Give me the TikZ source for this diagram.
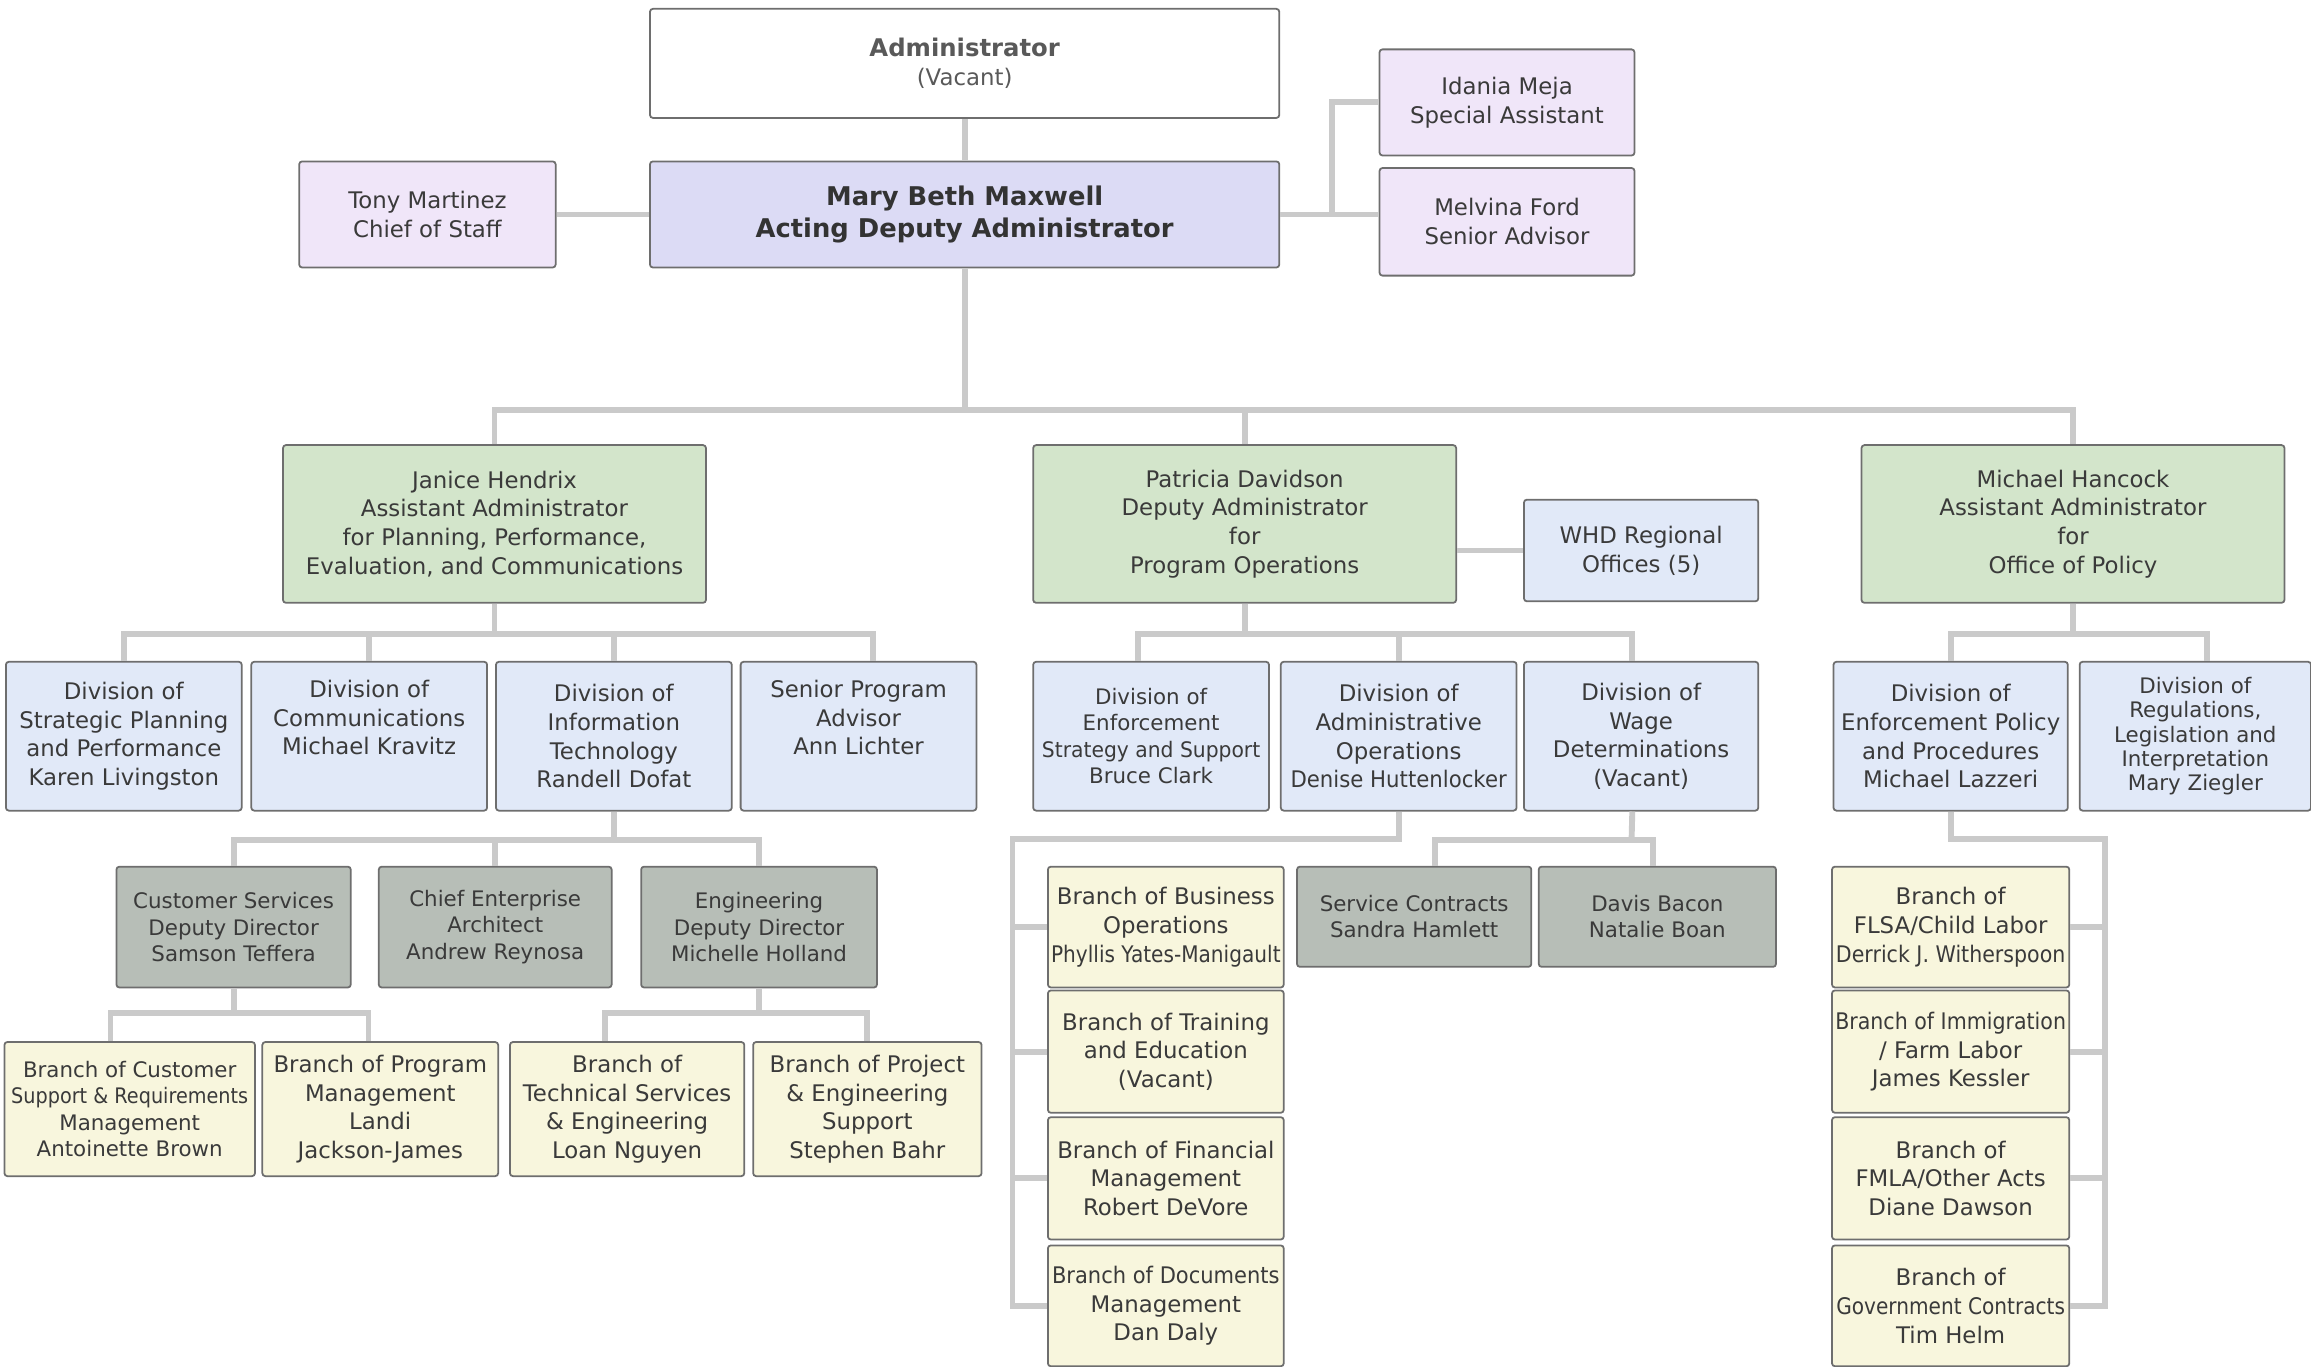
\documentclass[tikz,border=0pt]{standalone}
\usepackage{fontspec}
\setmainfont{DejaVu Sans}
\usepackage{tikz}

\definecolor{linkgray}{HTML}{CACACA}
\definecolor{boxline}{HTML}{6E6E6E}
\definecolor{txt}{HTML}{3A3A3A}
\definecolor{deplav}{HTML}{DCDBF5}
\definecolor{staffpink}{HTML}{F0E6F9}
\definecolor{aagreen}{HTML}{D3E5CB}
\definecolor{divblue}{HTML}{E1E9F8}
\definecolor{secgray}{HTML}{B7BEB7}
\definecolor{bryellow}{HTML}{F8F6DD}

\newcommand{\nfont}{\fontsize{15.5}{19.5}\selectfont}
\newcommand{\sfont}{\fontsize{14.5}{18}\selectfont}
\newcommand{\tfont}{\fontsize{14.5}{16.5}\selectfont}
\newcommand{\tightline}[2]{\scalebox{#1}[1]{#2}}

\tikzset{
  unit/.style={draw=boxline, line width=1.2pt, rounded corners=2pt, align=center, inner sep=0pt, text=txt, font=\nfont},
  exec/.style={unit, minimum width=427, minimum height=72},
  staff/.style={unit, fill=staffpink, minimum width=174, minimum height=72},
  aa/.style={unit, fill=aagreen, minimum width=287, minimum height=107},
  div/.style={unit, fill=divblue, minimum width=160, minimum height=101},
  sec/.style={unit, fill=secgray, minimum width=159, minimum height=82, font=\sfont},
  br/.style={unit, fill=bryellow, minimum width=160, minimum height=82},
  link/.style={draw=linkgray, line width=4pt},
}

\begin{document}
\begin{tikzpicture}[x=1pt, y=-1pt]
\useasboundingbox (0,0) rectangle (1568,927);

\node (admin) at (654.5,43) [exec, fill=white, minimum height=74, text=black!65] {{\bfseries\fontsize{16.5}{21}\selectfont Administrator}\\(Vacant)};
\node (deputy) at (654.5,145.5) [exec, fill=deplav, font=\bfseries\fontsize{17.5}{22}\selectfont, text=black!80] {Mary Beth Maxwell\\Acting Deputy Administrator};
	\node (cos) at (290,145.5) [staff] {Tony Martinez\\Chief of Staff};
	\node (spasst) at (1022.5,69.5) [staff, minimum width=173] {Idania Meja\\Special Assistant};
	\node (sradv) at (1022.5,150.5) [staff, minimum width=173, minimum height=73] {Melvina Ford\\Senior Advisor};

	\node (aaplan) at (335.5,355.5) [aa] {Janice Hendrix\\Assistant Administrator\\for Planning, Performance,\\Evaluation, and Communications};
		\node (dspp) at (84,499.5) [div] {Division of\\Strategic Planning\\and Performance\\Karen Livingston};
		\node (dcomm) at (250.5,499.5) [div] {Division of\\Communications\\Michael Kravitz\\\strut};
		\node (dit) at (416.5,499.5) [div] {Division of\\Information\\Technology\\Randell Dofat};
		\node (spa) at (582.5,499.5) [div] {Senior Program\\Advisor\\Ann Lichter\\\strut};
			\node (cust) at (158.5,629) [sec] {Customer Services\\Deputy Director\\Samson Teffera};
			\node (cea) at (336,629) [sec, minimum width=158] {Chief Enterprise\\Architect\\Andrew Reynosa};
			\node (eng) at (515,629) [sec, minimum width=160] {Engineering\\Deputy Director\\Michelle Holland};
				\node (bcsr) at (88,752.5) [br, minimum width=170, minimum height=91, font=\sfont] {Branch of Customer\\\tightline{0.9}{Support \& Requirements}\\Management\\Antoinette Brown};
				\node (bpm) at (258,752.5) [br, minimum height=91] {Branch of Program\\Management\\Landi\\Jackson-James};
				\node (bts) at (425.5,752.5) [br, minimum width=159, minimum height=91] {Branch of\\Technical Services\\\& Engineering\\Loan Nguyen};
				\node (bpes) at (588.5,752.5) [br, minimum width=155, minimum height=91] {Branch of Project\\\& Engineering\\Support\\Stephen Bahr};

	\node (dapo) at (844.5,355.5) [aa] {Patricia Davidson\\Deputy Administrator\\for\\Program Operations};
	\node (regional) at (1113.5,373.5) [div, minimum width=159, minimum height=69] {WHD Regional\\Offices (5)};
		\node (dess) at (781,499.5) [div, font=\sfont] {Division of\\Enforcement\\\tightline{0.95}{Strategy and Support}\\Bruce Clark};
		\node (dao) at (949,499.5) [div] {Division of\\Administrative\\Operations\\\tightline{0.93}{Denise Huttenlocker}};
		\node (dwd) at (1113.5,499.5) [div, minimum width=159] {Division of\\Wage\\Determinations\\(Vacant)};
			\node (bbo) at (791,629) [br] {Branch of Business\\Operations\\\tightline{0.88}{Phyllis Yates-Manigault}};
			\node (bte) at (791,713.5) [br, minimum height=83] {Branch of Training\\and Education\\(Vacant)};
			\node (bfm) at (791,799.5) [br, minimum height=83] {Branch of Financial\\Management\\Robert DeVore};
			\node (bdm) at (791,886) [br] {\tightline{0.92}{Branch of Documents}\\Management\\Dan Daly};
			\node (sc) at (959.5,622) [sec, minimum height=68] {Service Contracts\\Sandra Hamlett};
			\node (db) at (1124.5,622) [sec, minimum width=161, minimum height=68] {Davis Bacon\\Natalie Boan};

	\node (aapol) at (1406.5,355.5) [aa] {Michael Hancock\\Assistant Administrator\\for\\Office of Policy};
		\node (depp) at (1323.5,499.5) [div, minimum width=159] {Division of\\Enforcement Policy\\and Procedures\\Michael Lazzeri};
		\node (drli) at (1489.5,499.5) [div, minimum width=157, font=\tfont] {Division of\\Regulations,\\Legislation and\\Interpretation\\Mary Ziegler};
			\node (bfl) at (1323.5,629) [br, minimum width=161] {Branch of\\FLSA/Child Labor\\\tightline{0.9}{Derrick J. Witherspoon}};
			\node (bim) at (1323.5,713.5) [br, minimum width=161, minimum height=83] {\tightline{0.9}{Branch of Immigration}\\/ Farm Labor\\James Kessler};
			\node (bfa) at (1323.5,799.5) [br, minimum width=161, minimum height=83] {Branch of\\FMLA/Other Acts\\Diane Dawson};
			\node (bgc) at (1323.5,886) [br, minimum width=161] {Branch of\\\tightline{0.88}{Government Contracts}\\Tim Helm};

\draw[link] (admin) -- (deputy);
\draw[link] (cos) -- (deputy);
\draw[link] (deputy.east) -- (deputy.east -| sradv.west);
\coordinate (stafftee) at (904,145.5);
\draw[link] (stafftee) |- (spasst.west);

\coordinate (mainbus) at (656,278);
\draw[link] (deputy.south) -- (deputy.south |- mainbus);
\draw[link] (aaplan.north) |- (mainbus) -| (aapol.north);
\draw[link] (dapo.north) -- (dapo.north |- mainbus);
\draw[link] (dapo.east |- regional.west) -- (regional.west);

\coordinate (planbus) at (335.5,430);
\draw[link] (aaplan.south) -- (planbus);
\draw[link] (dspp.north) |- (planbus) -| ([xshift=10]spa.north);
\draw[link] (dcomm.north) -- (dcomm.north |- planbus);
\draw[link] (dit.north) -- (dit.north |- planbus);

\coordinate (itbus) at (416.5,570);
\draw[link] (dit.south) -- (itbus);
\draw[link] (cust.north) |- (itbus) -| (eng.north);
\draw[link] (cea.north) -- (cea.north |- itbus);

\coordinate (custbus) at (158.5,687);
\draw[link] (cust.south) -- (custbus);
\draw[link] ([xshift=-13]bcsr.north) |- (custbus) -| ([xshift=-8]bpm.north);
\coordinate (engbus) at (515,687);
\draw[link] (eng.south) -- (engbus);
\draw[link] ([xshift=-15]bts.north) |- (engbus) -| (bpes.north);

\coordinate (opsbus) at (844.5,430);
\draw[link] (dapo.south) -- (opsbus);
\draw[link] ([xshift=-9]dess.north) |- (opsbus) -| ([xshift=-6]dwd.north);
\draw[link] (dao.north) -- (dao.north |- opsbus);

\coordinate (aorail) at (687,569);
\draw[link] (dao.south) |- (aorail) -- (aorail |- bdm.west) -- (bdm.west);
\foreach \b in {bbo,bte,bfm}
	\draw[link] (aorail |- \b.west) -- (\b.west);

\coordinate (wdbus) at (1107,570);
\draw[link] ([xshift=-6]dwd.south) -- (wdbus);
\draw[link] ([xshift=14]sc.north) |- (wdbus) -| ([xshift=-3]db.north);

\coordinate (polbus) at (1406.5,430);
\draw[link] (aapol.south) -- (polbus);
\draw[link] (depp.north) |- (polbus) -| ([xshift=8]drli.north);

\coordinate (eprail) at (1428,569);
\draw[link] (depp.south) |- (eprail) -- (eprail |- bgc.east) -- (bgc.east);
\foreach \b in {bfl,bim,bfa}
	\draw[link] (eprail |- \b.east) -- (\b.east);
\end{tikzpicture}
\end{document}
